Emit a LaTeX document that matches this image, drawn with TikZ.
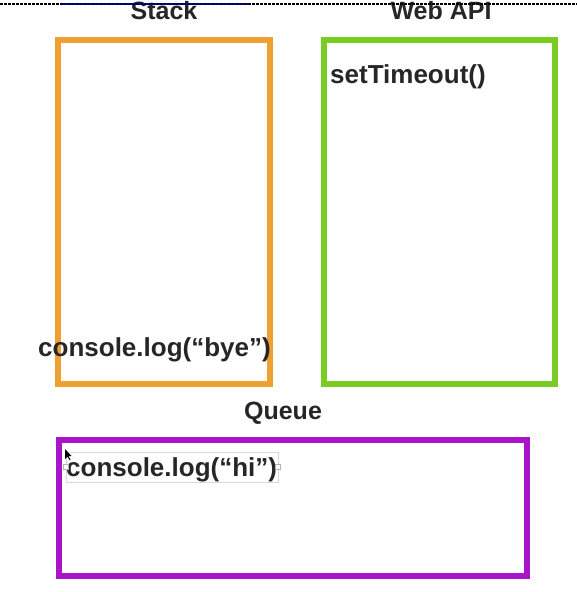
\documentclass[tikz,border=0pt]{standalone}
\usepackage{fontspec}
\setmainfont{Liberation Sans}
\definecolor{stackc}{HTML}{F0A030}
\definecolor{webc}{HTML}{78CC22}
\definecolor{queuec}{HTML}{A914C9}
\definecolor{txt}{HTML}{262626}
\begin{document}
\begin{tikzpicture}[x=1pt,y=-1pt,
  box/.style={line width=6pt},
  title/.style={font=\fontsize{25}{25}\selectfont\bfseries, text=txt, inner sep=0pt, anchor=base},
  code/.style={font=\fontsize{26}{26}\selectfont\bfseries, text=txt, inner sep=0pt, anchor=base west}]
\useasboundingbox (0,0) rectangle (577,592);
\clip (0,0) rectangle (577,592);
% boxes
\draw[box, stackc] (58,40) rectangle (270,384);
\draw[box, webc] (324,40) rectangle (555,384);
\draw[box, queuec] (59,440) rectangle (527,576);
% titles
\node[title] (stack) at (164,19.5) {Stack};
\node[title] (web) at (441,19.5) {Web API};
\node[title] (queue) at (283,419) {Queue};
% top dashed rule
\draw[black, dash pattern=on 3pt off 1pt, line width=1.8pt] (0,4) -- (577,4);
\draw[blue!55!black, dash pattern=on 3pt off 1pt, line width=1.8pt] (62,4) -- (250,4);
% code texts
\node[code] (bye) at (38,356) {console.log(“bye”)};
\node[code] (set) at (330,83) {setTimeout()};
\node[code] (hi) at (66,476) {console.log(“hi”)};
\draw[black!15, line width=0.6pt] (66,452) rectangle (278,482);
\draw[black!30, fill=white, line width=0.4pt] (63.5,464.5) rectangle (68.5,469.5);
\draw[black!30, fill=white, line width=0.4pt] (275.5,464.5) rectangle (280.5,469.5);
% cursor
\fill[black] (65,449) -- (65,459) -- (67.5,456.5) -- (69.5,460) -- (70.5,459.5) -- (68.5,456) -- (71.5,456) -- cycle;
\end{tikzpicture}
\end{document}
